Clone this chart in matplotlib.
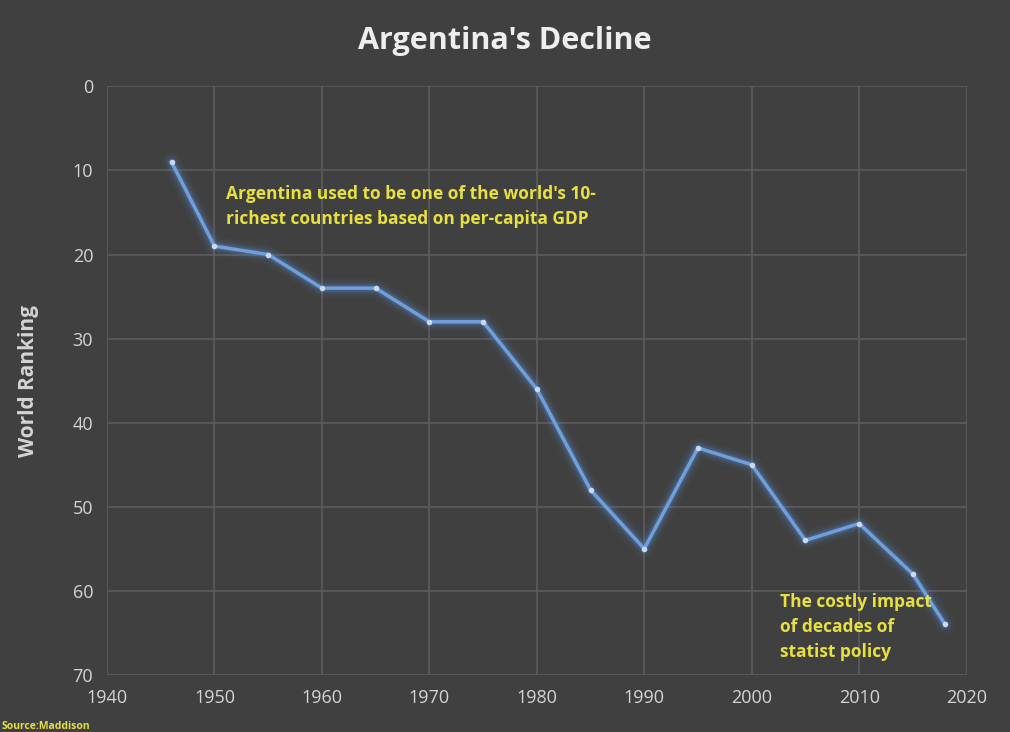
import matplotlib.pyplot as plt

years = [1946, 1950, 1955, 1960, 1965, 1970, 1975, 1980, 1985, 1990,
         1995, 2000, 2005, 2010, 2015, 2018]
ranking = [9, 19, 20, 24, 24, 28, 28, 36, 48, 55, 43, 45, 54, 52, 58, 64]

bg = "#404040"
grid_col = "#5c5c5c"
line_col = "#6f9fdc"
note_col = "#e6e040"
tick_col = "#d4d4d4"

plt.rcParams["font.family"] = ["Open Sans", "DejaVu Sans"]

fig = plt.figure(figsize=(10.1, 7.32), dpi=100, facecolor=bg)
ax = fig.add_axes([0.106, 0.078, 0.851, 0.804], facecolor=bg)

# glow behind the line
for lw, a in [(14, 0.05), (10, 0.08), (7, 0.12), (5, 0.18)]:
    ax.plot(years, ranking, color="#5b8fd6", lw=lw, alpha=a,
            solid_capstyle="round", solid_joinstyle="round")
ax.plot(years, ranking, color=line_col, lw=2.5, solid_joinstyle="round")
ax.plot(years, ranking, "o", color="#c8daf2", ms=4, mec="none")

ax.set_xlim(1940, 2020)
ax.set_ylim(70, 0)
ax.set_xticks(range(1940, 2021, 10))
ax.set_yticks(range(0, 71, 10))
ax.grid(True, color=grid_col, lw=1.2)
ax.set_axisbelow(True)
for s in ax.spines.values():
    s.set_visible(False)
ax.tick_params(colors=tick_col, labelsize=13, length=0, pad=10)

ax.set_ylabel("World Ranking", color="#d4d4d4", fontsize=15,
              fontweight="bold", labelpad=24)
fig.suptitle("Argentina's Decline", color="#eeeeee", fontsize=22,
             fontweight="bold", y=0.965)

ax.text(1951.1, 14.3, "Argentina used to be one of the world's 10-\n"
        "richest countries based on per-capita GDP",
        color=note_col, fontsize=12.5, fontweight="bold", va="center",
        linespacing=1.55)
ax.text(2002.6, 64.3, "The costly impact\nof decades of\nstatist policy",
        color=note_col, fontsize=12.5, fontweight="bold", va="center",
        linespacing=1.5)

fig.text(0.002, 0.004, "Source:Maddison", color=note_col, fontsize=7.5,
         fontweight="bold")

fig.savefig("out.png", dpi=100, facecolor=bg)
